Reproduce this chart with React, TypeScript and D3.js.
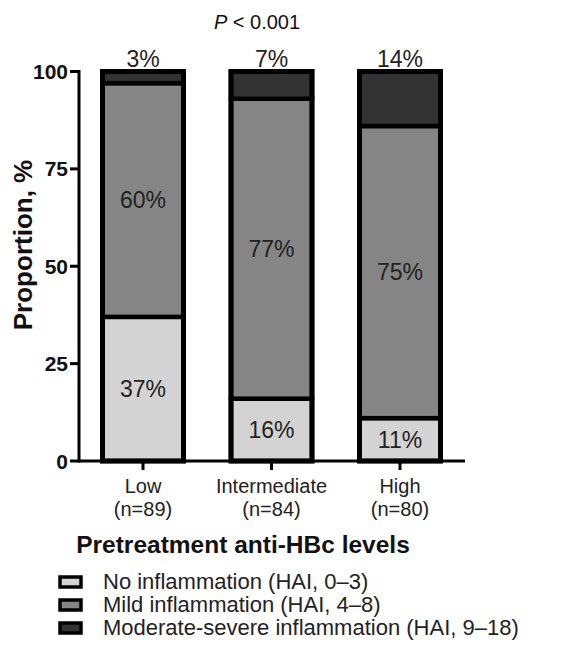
import React from "react";
import * as d3 from "d3";

// Anti-HBc level groups and their histologic inflammation distribution (%)
const categories = ["Low", "Intermediate", "High"];
const sampleSizes = ["(n=89)", "(n=84)", "(n=80)"];
const noInflammation = [37, 16, 11];
const mildInflammation = [60, 77, 75];
const moderateSevere = [3, 7, 14];
const yTicks = [0, 25, 50, 75, 100];
const seriesKeys = ["none", "mild", "severe"];
const seriesLabels = [
  "No inflammation (HAI, 0–3)",
  "Mild inflammation (HAI, 4–8)",
  "Moderate-severe inflammation (HAI, 9–18)",
];
const seriesColors = ["#d3d3d3", "#858585", "#333333"];

const FONT = "'Liberation Sans', Arial, Helvetica, sans-serif";

export default function App() {
  const width = 570;
  const height = 648;
  const axisX = 79;
  const axisEnd = 465;

  const y = d3.scaleLinear().domain([0, 100]).range([461, 71.5]);
  const x = d3.scalePoint<string>().domain(categories).range([143, 400]);
  const barW = 81;

  const rows = categories.map((c, i) => ({
    cat: c,
    none: noInflammation[i],
    mild: mildInflammation[i],
    severe: moderateSevere[i],
  }));
  const stacked = d3.stack<any>().keys(seriesKeys)(rows);

  return (
    <svg
      width={width}
      height={height}
      style={{ position: "absolute", left: 0, top: 0, background: "#fff" }}
      fontFamily={FONT}
    >
      {/* significance annotation */}
      <text x={257} y={29} textAnchor="middle" fontSize={20} fill="#111">
        <tspan fontStyle="italic">P</tspan>
        <tspan> &lt; 0.001</tspan>
      </text>

      {/* stacked bars */}
      {stacked.map((layer, li) =>
        layer.map((d, i) => {
          const cx = x(categories[i])!;
          const y0 = y(d[0]);
          const y1 = y(d[1]);
          return (
            <rect
              key={`${li}-${i}`}
              x={cx - barW / 2}
              y={y1}
              width={barW}
              height={y0 - y1}
              fill={seriesColors[li]}
              stroke="#000"
              strokeWidth={4.5}
            />
          );
        })
      )}
      {/* bar outlines */}
      {categories.map((c) => (
        <rect
          key={`o-${c}`}
          x={x(c)! - barW / 2}
          y={y(100)}
          width={barW}
          height={y(0) - y(100)}
          fill="none"
          stroke="#000"
          strokeWidth={5}
        />
      ))}

      {/* value labels inside the two lower segments */}
      {stacked.slice(0, 2).map((layer, li) =>
        layer.map((d, i) => (
          <text
            key={`v-${li}-${i}`}
            x={x(categories[i])!}
            y={(y(d[0]) + y(d[1])) / 2 + 8}
            textAnchor="middle"
            fontSize={23}
            fill="#222"
          >
            {`${d[1] - d[0]}%`}
          </text>
        ))
      )}
      {/* top segment values above each bar */}
      {categories.map((c, i) => (
        <text
          key={`t-${c}`}
          x={x(c)!}
          y={67}
          textAnchor="middle"
          fontSize={23}
          fill="#222"
        >
          {`${moderateSevere[i]}%`}
        </text>
      ))}

      {/* y axis */}
      <line x1={axisX} x2={axisX} y1={y(100) - 1.5} y2={y(0) + 1.5} stroke="#000" strokeWidth={3} />
      {yTicks.map((t) => (
        <g key={`yt-${t}`}>
          <line x1={axisX - 9} x2={axisX} y1={y(t)} y2={y(t)} stroke="#000" strokeWidth={3} />
          <text
            x={axisX - 11}
            y={y(t) + 7.5}
            textAnchor="end"
            fontSize={21}
            fontWeight="bold"
            fill="#111"
          >
            {t}
          </text>
        </g>
      ))}
      <text
        transform={`translate(32, 245) rotate(-90)`}
        textAnchor="middle"
        fontSize={26}
        fontWeight="bold"
        fill="#111"
      >
        Proportion, %
      </text>

      {/* x axis */}
      <line x1={axisX} x2={axisEnd} y1={y(0)} y2={y(0)} stroke="#000" strokeWidth={3} />
      {categories.map((c, i) => (
        <g key={`xt-${c}`}>
          <line x1={x(c)!} x2={x(c)!} y1={y(0)} y2={y(0) + 9} stroke="#000" strokeWidth={3} />
          <text x={x(c)!} y={493} textAnchor="middle" fontSize={20} fill="#222">
            {c}
          </text>
          <text x={x(c)!} y={516} textAnchor="middle" fontSize={20} fill="#222">
            {sampleSizes[i]}
          </text>
        </g>
      ))}
      <text x={243} y={553} textAnchor="middle" fontSize={24.5} fontWeight="bold" fill="#111">
        Pretreatment anti-HBc levels
      </text>

      {/* legend */}
      {seriesLabels.map((label, i) => {
        const cy = 582 + i * 23;
        return (
          <g key={`lg-${i}`}>
            <rect
              x={60}
              y={cy - 5}
              width={21}
              height={10}
              fill={seriesColors[i]}
              stroke="#000"
              strokeWidth={3.5}
            />
            <text x={103} y={cy + 7} fontSize={22} fill="#222">
              {label}
            </text>
          </g>
        );
      })}
    </svg>
  );
}
